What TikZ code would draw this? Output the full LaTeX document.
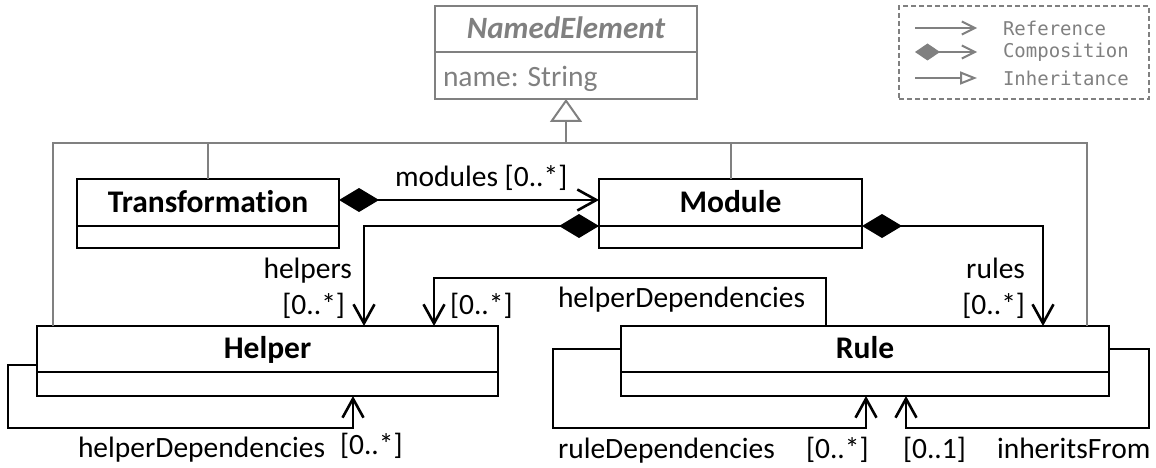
\documentclass[tikz,border=0pt]{standalone}
\usepackage{fontspec}
\setmainfont{Carlito}[Ligatures=NoCommon]
\newfontfamily\legendfont{DejaVu Sans Mono}
\usetikzlibrary{arrows.meta}
\definecolor{umlgray}{RGB}{128,128,128}

\begin{document}
\begin{tikzpicture}[x=1pt,y=-1pt,
  every node/.style={inner sep=0pt, outer sep=0pt},
  mainfont/.style={font=\fontsize{29.5}{35}\selectfont},
  classhead/.style={draw, line width=2.6pt, anchor=north west,
    text height=21.5pt, text depth=2pt,
    font=\fontsize{31.5}{36}\selectfont\bfseries},
  classbody/.style={draw, line width=2.6pt, anchor=north west},
  lbl/.style={mainfont, anchor=base west},
  lble/.style={mainfont, anchor=base east},
  ref/.style={line width=2.6pt, -{Straight Barb[length=19pt,width=21pt]}},
  comp/.style={line width=2.6pt,
    {Diamond[length=40pt,width=24pt]}-{Straight Barb[length=19pt,width=21pt]}},
  gen/.style={draw=umlgray, line width=2pt},
  legendtext/.style={text=umlgray, anchor=west,
    font=\legendfont\fontsize{19}{22}\selectfont},
]
\useasboundingbox (0,0) rectangle (1156,468);

% abstract super class
\node[classhead, draw=umlgray, text=umlgray, minimum width=262pt, minimum height=46pt,
  font=\fontsize{31}{36}\selectfont\bfseries\itshape] (ne) at (435,6) {NamedElement};
\node[classbody, draw=umlgray, minimum width=262pt, minimum height=47pt] (neA) at (ne.south west) {};
\node[lbl, text=umlgray] (neattr) at (443,87) {name: String};

% classes
\node[classhead, minimum width=262pt, minimum height=47pt] (trans) at (77,179) {Transformation};
\node[classbody, minimum width=262pt, minimum height=22pt] (transA) at (trans.south west) {};

\node[classhead, minimum width=263pt, minimum height=47pt] (module) at (599,179) {Module};
\node[classbody, minimum width=263pt, minimum height=22pt] (moduleA) at (module.south west) {};

\node[classhead, minimum width=461pt, minimum height=46pt] (helper) at (37,326) {Helper};
\node[classbody, minimum width=461pt, minimum height=24pt] (helperA) at (helper.south west) {};

\node[classhead, minimum width=488pt, minimum height=46pt] (rule) at (621,326) {Rule};
\node[classbody, minimum width=488pt, minimum height=24pt] (ruleA) at (rule.south west) {};

% generalisation tree
\path (neA.south) ++(0,44) coordinate (hub);
\draw[gen, -{Triangle[open,length=23pt,width=32pt]}] (hub) -- (neA.south);
\draw[gen] ([xshift=16pt]helper.north west) |- (hub) -| ([xshift=-22pt]rule.north east);
\draw[gen] (trans.north) -- (trans.north |- hub);
\draw[gen] (module.north) -- (module.north |- hub);

% compositions
\draw[comp] ([yshift=2.5pt]trans.east) -- ([yshift=2.5pt]module.west);
\node[lbl] (lmod) at (395,186) {modules [0..*]};

\draw[comp] (moduleA.north west) -| ([xshift=327pt]helper.north west);
\node[lble] (lhelpers) at (352,278) {helpers};
\node[lble] (lhelpersm) at (345,314) {[0..*]};

\draw[comp] (moduleA.north east) -| ([xshift=422pt]rule.north west);
\node[lble] (lrules) at (1025,278) {rules};
\node[lble] (lrulesm) at (1025,314) {[0..*]};

% references
\draw[ref] ([xshift=205pt]rule.north west) -- ++(0,-48) -| ([xshift=397pt]helper.north west);
\node[lbl] (lhd) at (558,307) {helperDependencies};
\node[lbl] (lhdm) at (450,314) {[0..*]};

\draw[ref] ([yshift=-39pt]helper.north west) -- ++(-29,0) -- ++(0,63) -| ([xshift=316pt]helperA.south west);
\node[lbl] (lhself) at (78,457) {helperDependencies};
\node[lbl] (lhselfm) at (340,454) {[0..*]};

\draw[ref] (rule.west) -- ++(-68,0) -- ++(0,79) -| ([xshift=245pt]ruleA.south west);
\node[lbl] (lrd) at (558,458) {ruleDependencies};
\node[lbl] (lrdm) at (806,458) {[0..*]};

\draw[ref] (rule.east) -- ++(40,0) -- ++(0,79) -| ([xshift=285pt]ruleA.south west);
\node[lbl] (linhm) at (903,458) {[0..1]};
\node[lbl] (linh) at (997,458) {inheritsFrom};

% legend
\node[draw=umlgray, line width=2pt, dash pattern=on 5pt off 3pt, anchor=north west,
  minimum width=250pt, minimum height=93pt] (legend) at (899,6) {};
\coordinate (r1) at (915,28);  \coordinate (r2) at (977,28);
\coordinate (c1) at (915,52);  \coordinate (c2) at (977,52);
\coordinate (i1) at (915,78);  \coordinate (i2) at (977,78);
\draw[umlgray, line width=2pt, -{Straight Barb[length=13pt,width=13pt]}] (r1) -- (r2);
\draw[umlgray, line width=2pt, {Diamond[length=25pt,width=17pt]}-{Straight Barb[length=13pt,width=13pt]}] (c1) -- (c2);
\draw[umlgray, line width=2pt, -{Triangle[open,length=17pt,width=13pt]}] (i1) -- (i2);
\node[legendtext] (lref) at (1003,28) {Reference};
\node[legendtext] (lcomp) at (1003,52) {Composition};
\node[legendtext] (linhr) at (1003,78) {Inheritance};
\end{tikzpicture}
\end{document}
